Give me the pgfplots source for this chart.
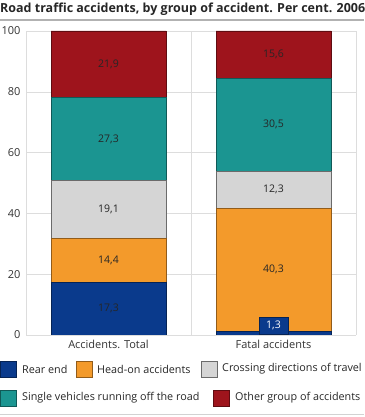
\documentclass[border=0pt]{standalone}
\usepackage{pgfplots}
\pgfplotsset{compat=1.18}
\usepackage{fontspec}
\setmainfont{Open Sans}
\definecolor{cRear}{HTML}{0A3A8C}
\definecolor{cHead}{HTML}{F39A2B}
\definecolor{cCross}{HTML}{D5D5D5}
\definecolor{cSingle}{HTML}{1B9591}
\definecolor{cOther}{HTML}{9E141C}
\definecolor{gridc}{HTML}{DDDDDD}
\pgfplotsset{
  base/.style={
    at={(26pt,82pt)}, anchor=south west,
    scale only axis, width=330pt, height=304pt,
    xmin=-0.5, xmax=1.5, ymin=0, ymax=100,
  }
}
\begin{document}
\begin{tikzpicture}[x=1pt,y=1pt]
\useasboundingbox (0,0) rectangle (364,417);
% title
\node[anchor=west, font=\fontsize{12.5}{14}\selectfont\bfseries, text=black!85, inner sep=0pt] at (0,408) {Road traffic accidents, by group of accident. Per cent. 2006};
\draw[gray!60, line width=1.2pt] (0,397) -- (364,397);
\draw[gray!35, line width=1pt] (0,2) -- (364,2);
\begin{axis}[base,
  ybar stacked, bar width=115pt,
  axis x line=bottom, axis y line=box,
  axis line style={draw=gridc, -},
  xtick={0,1}, xticklabels={Accidents. Total, Fatal accidents},
  ytick={0,20,...,100},
  ymajorgrids, grid style={gridc},
  extra x ticks={0.5}, extra x tick labels={},
  extra x tick style={xmajorgrids=true, grid style={gridc}},
  major tick length=0pt,
  /pgf/number format/assume math mode=true,
  tick label style={font=\fontsize{11}{13}\selectfont, text=black!80},
  yticklabel style={xshift=-2pt},
  xticklabel style={yshift=-2pt},
]
\addplot[fill=cRear, draw=cRear!60!black] coordinates {(0,17.3) (1,1.3)};
\addplot[fill=cHead, draw=cHead!60!black] coordinates {(0,14.4) (1,40.3)};
\addplot[fill=cCross, draw=cCross!50!black] coordinates {(0,19.1) (1,12.3)};
\addplot[fill=cSingle, draw=cSingle!60!black] coordinates {(0,27.3) (1,30.5)};
\addplot[fill=cOther, draw=cOther!60!black] coordinates {(0,21.9) (1,15.6)};
\end{axis}
\begin{axis}[base, hide axis]
\addplot[draw=none, nodes near coords, point meta=explicit symbolic,
  nodes near coords align=center,
  every node near coord/.append style={font=\fontsize{10.5}{12}\selectfont, text=black!85}]
  coordinates {(0,8.65)[17,3] (0,24.5)[14,4] (0,41.25)[19,1] (0,64.45)[27,3] (0,89.05)[21,9]
               (1,21.45)[40,3] (1,47.75)[12,3] (1,69.15)[30,5] (1,92.2)[15,6]};
\addplot[draw=none, nodes near coords, point meta=explicit symbolic,
  nodes near coords align=center,
  every node near coord/.append style={font=\fontsize{10.5}{12}\selectfont, text=white, fill=cRear, draw=cRear!60!black, minimum width=29pt, minimum height=17pt, inner sep=1pt}]
  coordinates {(1,3.2)[1,3]};
\end{axis}
% legend
\begin{scope}[font=\fontsize{10.8}{13}\selectfont, every node/.style={anchor=west, inner sep=0pt, text=black!85}]
\draw[fill=cRear, draw=cRear!60!black] (0.5,40) rectangle (16,56);
\node at (22,48) {Rear end};
\draw[fill=cHead, draw=cHead!60!black] (76,40) rectangle (92,56);
\node at (97,48) {Head-on accidents};
\draw[fill=cCross, draw=cCross!50!black] (201,40) rectangle (217,56);
\node at (222,48) {Crossing directions of travel};
\draw[fill=cSingle, draw=cSingle!60!black] (0.5,11) rectangle (16,27);
\node at (22,19) {Single vehicles running off the road};
\draw[fill=cOther, draw=cOther!60!black] (213,11) rectangle (229,27);
\node at (235,19) {Other group of accidents};
\end{scope}
\end{tikzpicture}
\end{document}
